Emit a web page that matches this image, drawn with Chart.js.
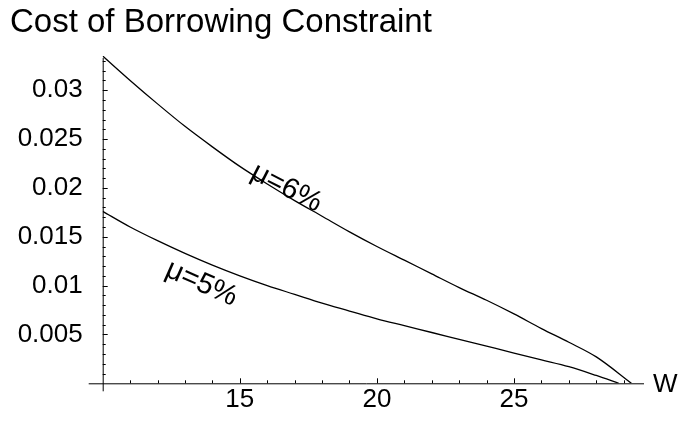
<!DOCTYPE html>
<html>
<head>
<meta charset="utf-8">
<script src="https://cdn.jsdelivr.net/npm/chart.js@4"></script>
<style>
  body { margin: 0; background: #fff; }
  #wrap { width: 678px; height: 423px; }
</style>
</head>
<body>
<div id="wrap"><canvas id="chart" width="678" height="423"></canvas></div>
<script>
// wealth W and cost of borrowing constraint
const W_6 = [10, 11, 12, 13, 14, 15, 16, 17, 18, 19, 20, 21, 22, 23, 24, 25, 26, 27, 28, 29.28];
const COST_6 = [0.0335, 0.0310, 0.0286, 0.0263, 0.0242, 0.0222, 0.0204, 0.0187, 0.0171, 0.0155,
  0.0140, 0.0126, 0.0112, 0.0098, 0.0085, 0.0071, 0.0056, 0.0042, 0.0027, 0];
const W_5 = [10, 11, 12, 13, 14, 15, 16, 17, 18, 19, 20, 21, 22, 23, 24, 25, 26, 27, 28, 28.82];
const COST_5 = [0.0176, 0.0160, 0.0146, 0.0133, 0.0121, 0.0110, 0.0100, 0.0091, 0.0082, 0.0074,
  0.0066, 0.0059, 0.0052, 0.0045, 0.0038, 0.0031, 0.0024, 0.0017, 0.0008, 0];

const SERIES_LABELS = ["\u03bc=6%", "\u03bc=5%"];
const X_MAJOR = [15, 20, 25];
const Y_MAJOR = [0.005, 0.01, 0.015, 0.02, 0.025, 0.03];

const FONT = "'Liberation Sans', Arial, Helvetica, sans-serif";

// where the curve labels sit (data coords) and their tilt
const CURVE_NOTES = [
  { text: SERIES_LABELS[0], x: 16.7, y: 0.0200, angle: 27 },
  { text: SERIES_LABELS[1], x: 13.6, y: 0.0102, angle: 24 },
];

const toPoints = (xs, ys) => xs.map((x, i) => ({ x, y: ys[i] }));

const isMajor = (v, list) => list.some((m) => Math.abs(m - v) < 1e-9);

const axesPlugin = {
  id: "mathematicaAxes",
  afterDraw(chart) {
    const { ctx, chartArea } = chart;
    const xs = chart.scales.x;
    const ys = chart.scales.y;
    const x0 = xs.getPixelForValue(10);
    const y0 = ys.getPixelForValue(0);

    ctx.save();
    ctx.strokeStyle = "#000";
    ctx.lineWidth = 1;
    ctx.beginPath();
    ctx.moveTo(x0 - 14, y0 + 0.5);
    ctx.lineTo(chartArea.right, y0 + 0.5);
    ctx.moveTo(x0 + 0.5, y0 + 8);
    ctx.lineTo(x0 + 0.5, chartArea.top + 2);
    ctx.stroke();

    // inward tick marks
    ctx.beginPath();
    xs.ticks.forEach((t) => {
      if (t.value <= 10) return;
      const px = Math.round(xs.getPixelForValue(t.value)) + 0.5;
      const len = isMajor(t.value, X_MAJOR) ? 5 : 3;
      ctx.moveTo(px, y0);
      ctx.lineTo(px, y0 - len);
    });
    ys.ticks.forEach((t) => {
      if (t.value <= 0) return;
      const py = Math.round(ys.getPixelForValue(t.value)) + 0.5;
      const len = isMajor(t.value, Y_MAJOR) ? 5 : 3;
      ctx.moveTo(x0, py);
      ctx.lineTo(x0 + len, py);
    });
    ctx.stroke();

    // axis name at the end of the x axis
    ctx.fillStyle = "#000";
    ctx.font = `26px ${FONT}`;
    ctx.textAlign = "left";
    ctx.textBaseline = "middle";
    ctx.fillText("W", chartArea.right + 9, y0 + 2);

    // curve labels
    ctx.font = `300 29px ${FONT}`;
    ctx.textAlign = "center";
    CURVE_NOTES.forEach((n) => {
      ctx.save();
      ctx.translate(xs.getPixelForValue(n.x), ys.getPixelForValue(n.y));
      ctx.rotate((n.angle * Math.PI) / 180);
      ctx.fillText(n.text, 0, 0);
      ctx.restore();
    });
    ctx.restore();
  },
};

new Chart(document.getElementById("chart"), {
  type: "scatter",
  data: {
    datasets: [
      {
        label: SERIES_LABELS[0],
        data: toPoints(W_6, COST_6),
        showLine: true,
        borderColor: "#000",
        borderWidth: 1.3,
        pointRadius: 0,
        cubicInterpolationMode: "monotone",
      },
      {
        label: SERIES_LABELS[1],
        data: toPoints(W_5, COST_5),
        showLine: true,
        borderColor: "#000",
        borderWidth: 1.3,
        pointRadius: 0,
        cubicInterpolationMode: "monotone",
      },
    ],
  },
  options: {
    responsive: false,
    animation: false,
    layout: { padding: { left: 10, right: 34, top: 0, bottom: 0 } },
    scales: {
      x: {
        type: "linear",
        min: 10,
        max: 29.74,
        afterFit: (s) => { s.height = 39.7; },
        border: { display: false },
        grid: { display: false, drawTicks: false },
        ticks: {
          stepSize: 1,
          includeBounds: false,
          autoSkip: false,
          maxRotation: 0,
          padding: 1,
          color: "#000",
          font: { family: FONT, size: 26 },
          callback: (v) => (isMajor(v, X_MAJOR) ? String(v) : ""),
        },
      },
      y: {
        type: "linear",
        min: 0,
        max: 0.0335,
        afterFit: (s) => { s.width = 92.7; },
        border: { display: false },
        grid: { display: false, drawTicks: false },
        ticks: {
          stepSize: 0.001,
          includeBounds: false,
          autoSkip: false,
          padding: 20,
          color: "#000",
          font: { family: FONT, size: 26 },
          callback: (v) => {
            const m = Y_MAJOR.find((t) => Math.abs(t - v) < 1e-9);
            return m !== undefined ? String(m) : "";
          },
        },
      },
    },
    plugins: {
      legend: { display: false },
      tooltip: { enabled: false },
      title: {
        display: true,
        text: "Cost of Borrowing Constraint",
        align: "start",
        color: "#000",
        font: { family: FONT, size: 33, weight: "normal" },
        padding: { top: 3, bottom: 13.4 },
      },
    },
  },
  plugins: [axesPlugin],
});
</script>
</body>
</html>
